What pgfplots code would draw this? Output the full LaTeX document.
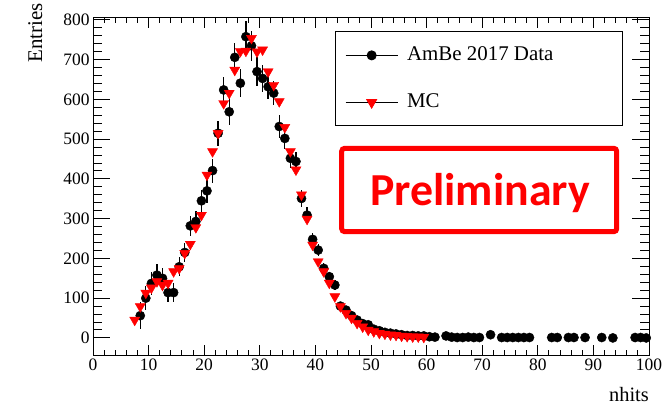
\documentclass[border=0pt]{standalone}
\usepackage{pgfplots}
\usepackage{pgfplotstable}
\pgfplotsset{compat=1.18}
\usepackage{fontspec}
\setmainfont{Liberation Serif}
\newfontfamily\prelimfont{Carlito}

% AmBe 2017 data: bin centre, entries, error
\pgfplotstableread{
x y ey
8.5 56 34
9.5 100 30
10.5 137 28
11.5 158 28
12.5 150 26
13.5 114 24
14.5 114 24
15.5 179 24
16.5 215 25
17.5 282 26
18.5 293 27
19.5 345 28
20.5 370 30
21.5 421 30
22.5 515 32
23.5 624 33
24.5 569 34
25.5 706 36
26.5 641 36
27.5 758 40
28.5 735 38
29.5 670 36
30.5 653 34
31.5 632 32
32.5 616 30
33.5 532 28
34.5 502 26
35.5 452 24
36.5 444 23
37.5 351 21
38.5 309 20
39.5 248 17
40.5 221 16
41.5 175 14
42.5 154 13
43.5 133 12
44.5 80 10
45.5 70 9
46.5 56 8
47.5 45 7
48.5 36 7
49.5 33 6
50.5 22 6
51.5 18 5
52.5 14 5
53.5 12 5
54.5 10 4
55.5 8 4
56.5 6 4
57.5 6 4
58.5 5 4
59.5 5 4
60.5 3 4
61.5 2 4
63.5 5 4
64.5 2 4
65.5 1 3
66.5 1 3
67.5 2 3
68.5 1 3
69.5 1 3
71.5 8 3
73.5 1 3
74.5 1 3
75.5 1 3
76.5 1 3
77.5 1 3
78.5 1 3
82.5 1 3
83.5 1 3
85.5 1 3
86.5 1 3
88.5 1 3
91.5 1 3
93.5 0 3
97.5 1 3
98.5 1 3
99.5 0 3
}\datatab

% MC
\pgfplotstableread{
x y
7.5 45
8.5 79
9.5 113
10.5 126
11.5 142
12.5 133
13.5 138
14.5 167
15.5 175
16.5 213
17.5 236
18.5 278
19.5 309
20.5 410
21.5 469
22.5 515
23.5 590
24.5 616
25.5 674
26.5 721
27.5 722
28.5 754
29.5 720
30.5 725
31.5 670
32.5 636
33.5 595
34.5 530
35.5 469
36.5 423
37.5 360
38.5 299
39.5 234
40.5 192
41.5 167
42.5 138
43.5 104
44.5 79
45.5 62
46.5 50
47.5 37
48.5 28
49.5 20
50.5 16
51.5 12
52.5 10
53.5 8
54.5 7
55.5 5
56.5 4
57.5 3
58.5 3
59.5 2
}\mctab

\begin{document}
\begin{tikzpicture}
\path[use as bounding box] (0,0) rectangle (671bp,405bp);
\begin{axis}[
    at={(93bp,50bp)}, anchor=south west,
    scale only axis, width=556bp, height=337bp,
    xmin=0, xmax=100, ymin=-43, ymax=805,
    xtick={0,10,...,100}, ytick={0,100,...,800},
    minor x tick num=4, minor y tick num=4,
    tick align=inside,
    axis line style={line width=1bp},
    every tick/.style={black, line width=1bp},
    xtick style={/pgfplots/major tick length=10bp, /pgfplots/minor tick length=5bp},
    ytick style={/pgfplots/major tick length=17bp, /pgfplots/minor tick length=9bp},
    ticklabel style={font=\fontsize{17.5}{20}\selectfont},
    /pgf/number format/assume math mode=true,
    legend style={at={(rel axis cs:0.435,0.96)}, anchor=north west,
        draw=black, line width=0.8bp, inner xsep=10bp, inner ysep=14bp,
        row sep=28bp, font=\fontsize{21}{24}\selectfont,
        /tikz/every odd column/.append style={column sep=9bp},
        nodes={inner sep=0pt, text height=15bp, text depth=4bp}},
    legend cell align=left,
    legend image code/.code={
        \draw[black, line width=0.8bp] (0bp,0bp) -- (52bp,0bp);
        \draw[mark repeat=2, mark phase=2, #1] plot coordinates {(0bp,0bp) (26bp,0bp) (52bp,0bp)};},
]
\addplot[only marks, mark=*, mark size=4.6bp, black,
    error bars/.cd, y dir=both, y explicit,
    error bar style={line width=1.3bp}, error mark=none]
    table[x=x, y=y, y error=ey] {\datatab};
\addlegendentry{\makebox[205bp][l]{AmBe 2017 Data}}
\addplot[only marks, mark=triangle*, mark size=5.8bp, red, mark options={rotate=180}]
    table[x=x, y=y] {\mctab};
\addlegendentry{\makebox[205bp][l]{MC}}
\end{axis}
\node[rotate=90, anchor=base east, inner sep=0pt, font=\fontsize{21}{24}\selectfont] at (42bp,402bp) {Entries};
\node[anchor=base east, inner sep=0pt, font=\fontsize{20.5}{24}\selectfont] at (649bp,4bp) {nhits};
\draw[red, line width=5bp, rounded corners=3bp] (341.7bp,173.3bp) rectangle (616.7bp,256.7bp);
\node[text=red, anchor=base, inner sep=0pt, font=\prelimfont\bfseries\fontsize{46}{50}\selectfont] at (480bp,199bp) {Preliminary};
\end{tikzpicture}
\end{document}
